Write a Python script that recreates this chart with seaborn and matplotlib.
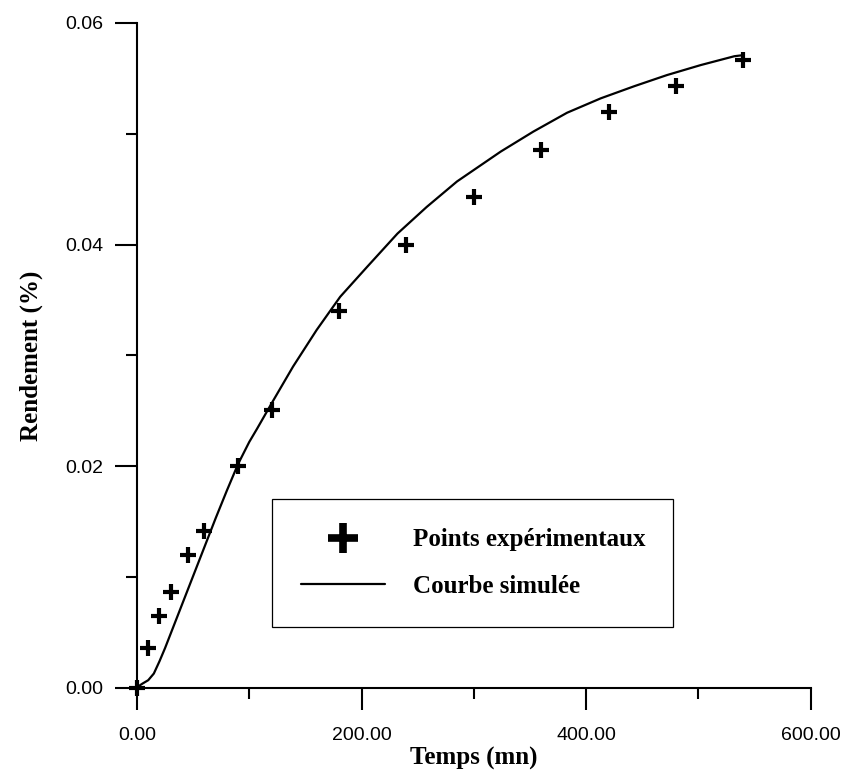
import matplotlib
matplotlib.use("Agg")
import matplotlib.pyplot as plt
from matplotlib.lines import Line2D
from matplotlib.ticker import FixedLocator
import seaborn as sns
import pandas as pd

# ---- data ----
t_exp = [0, 10, 20, 30, 45, 60, 90, 120, 180, 240, 300, 360, 420, 480, 540]
y_exp = [0.0, 0.0036, 0.0065, 0.0087, 0.0120, 0.0142, 0.0200, 0.0251,
         0.0340, 0.0400, 0.0443, 0.0485, 0.0520, 0.0543, 0.0567]

t_sim = [0, 2, 5, 10, 15, 20, 25, 30, 40, 50, 60, 70, 80, 90, 100, 107,
         120, 139, 160, 181, 205, 232, 258, 285, 324, 353, 383, 413, 443,
         472, 502, 532, 540]
y_sim = [0.0, 0.0002, 0.0004, 0.0007, 0.0013, 0.0024, 0.0036, 0.0049,
         0.0075, 0.0101, 0.0127, 0.0153, 0.0178, 0.0202, 0.0222, 0.0234,
         0.0257, 0.0290, 0.0323, 0.0353, 0.0380, 0.0410, 0.0434, 0.0457,
         0.0484, 0.0502, 0.0519, 0.0532, 0.0543, 0.0553, 0.0562, 0.0570,
         0.0571]

x_ticks = [0, 200, 400, 600]
x_tick_labels = ["0.00", "200.00", "400.00", "600.00"]
x_minor = [100, 300, 500]
y_ticks = [0.0, 0.02, 0.04, 0.06]
y_tick_labels = ["0.00", "0.02", "0.04", "0.06"]
y_minor = [0.01, 0.03, 0.05]

legend_labels = ["Points expérimentaux", "Courbe simulée"]
x_label = "Temps (mn)"
y_label = "Rendement (%)"

df_exp = pd.DataFrame({"t": t_exp, "y": y_exp})
df_sim = pd.DataFrame({"t": t_sim, "y": y_sim})

sns.set_style("ticks")
plt.rcParams["font.family"] = ["Liberation Sans", "DejaVu Sans"]
plt.rcParams["text.color"] = "black"
plt.rcParams["axes.labelcolor"] = "black"
plt.rcParams["xtick.color"] = "black"
plt.rcParams["ytick.color"] = "black"

fig = plt.figure(figsize=(8.43, 7.71), dpi=100)
ax = fig.add_axes([0.1625, 0.1077, 0.7992, 0.8625])

sns.lineplot(data=df_sim, x="t", y="y", ax=ax, color="black", linewidth=1.6,
             sort=False, estimator=None)
sns.scatterplot(data=df_exp, x="t", y="y", ax=ax, marker="+", color="black",
                s=135, linewidth=3.0, clip_on=False, zorder=5)

ax.set_xlim(0, 600)
ax.set_ylim(0, 0.06)
ax.set_xticks(x_ticks)
ax.set_xticklabels(x_tick_labels)
ax.set_yticks(y_ticks)
ax.set_yticklabels(y_tick_labels)
ax.xaxis.set_minor_locator(FixedLocator(x_minor))
ax.yaxis.set_minor_locator(FixedLocator(y_minor))

ax.tick_params(axis="both", which="major", length=16, width=1.5,
               labelsize=14, color="black", labelcolor="black", direction="out")
ax.tick_params(axis="x", which="major", pad=12)
ax.tick_params(axis="y", which="major", pad=8.5)
ax.tick_params(axis="both", which="minor", length=8, width=1.5,
               color="black", direction="out")

for side in ["top", "right"]:
    ax.spines[side].set_visible(False)
for side in ["left", "bottom"]:
    ax.spines[side].set_linewidth(1.5)
    ax.spines[side].set_color("black")

serif_bold = dict(family=["Liberation Serif", "DejaVu Serif"],
                  weight="bold", size=18, color="black")
ax.set_xlabel(x_label, fontdict=serif_bold, labelpad=2)
ax.set_ylabel(y_label, fontdict=serif_bold, labelpad=16)

handles = [
    Line2D([], [], marker="+", markersize=21, markeredgewidth=5.5,
           linestyle="", color="black"),
    Line2D([], [], color="black", linewidth=1.6),
]
leg = ax.legend(handles, legend_labels,
                loc="center", bbox_to_anchor=(0.2004, 0.0917, 0.5952, 0.1923),
                mode="expand", frameon=True, fancybox=False, shadow=False,
                borderpad=1.17, labelspacing=0.94, handlelength=3.36,
                handletextpad=1.12, borderaxespad=0,
                prop=dict(family=["Liberation Serif", "DejaVu Serif"],
                          weight="bold", size=18))
for txt in leg.get_texts():
    txt.set_color("black")
leg.get_frame().set_edgecolor("black")
leg.get_frame().set_linewidth(0.9)
leg.get_frame().set_alpha(1)

fig.savefig("out.png", dpi=100)
